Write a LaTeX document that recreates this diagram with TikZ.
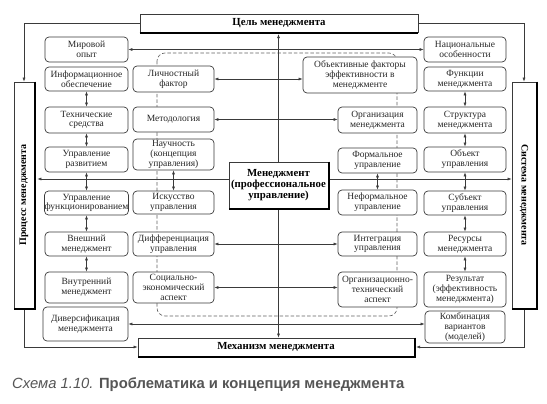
\documentclass[tikz,border=0pt]{standalone}
\usepackage{fontspec}
\setmainfont{Liberation Serif}
\newfontfamily\capfont{Liberation Sans}
\usetikzlibrary{arrows.meta,calc}
\definecolor{ln}{HTML}{3A3A3A}
\definecolor{capgray}{HTML}{555555}
\tikzset{
 box/.style={draw=ln, fill=white, rounded corners=4pt, line width=0.7pt, inner sep=0pt, align=center, font=\fontsize{9.5}{9.8}\selectfont, text=black!85},
 bigbox/.style={draw=ln, fill=white, line width=0.7pt, inner sep=0pt, align=center, font=\bfseries\fontsize{10.8}{11}\selectfont},
 arr/.style={-{Latex[length=4pt,width=3pt]}, draw=ln, line width=0.6pt},
 darr/.style={{Latex[length=4pt,width=3pt]}-{Latex[length=4pt,width=3pt]}, draw=ln, line width=0.6pt},
 shad/.style={draw=black, line width=1.8pt},
 vlabel/.style={font=\bfseries\fontsize{10}{10}\selectfont},
}
\begin{document}
\begin{tikzpicture}[x=1pt,y=-1pt]
\useasboundingbox (0,0) rectangle (547,404);
\fill[white] (0,0) rectangle (547,404);
% dashed frame
\draw[ln!80, line width=0.6pt, rounded corners=8pt, dash pattern=on 3.5pt off 2pt] (157,53) rectangle (397,316);

% big boxes
\node[bigbox, minimum width=278pt, minimum height=18pt] (cel) at (279,23) {Цель менеджмента};
\draw[shad] ([yshift=-0.9pt]cel.south west) -- ([yshift=-0.9pt]cel.south east);
\node[bigbox, minimum width=276pt, minimum height=18pt] (mech) at (276,347) {Механизм менеджмента};
\draw[shad] ([xshift=0.9pt]mech.north east) -- ([xshift=0.9pt,yshift=-0.9pt]mech.south east) -- ([yshift=-0.9pt]mech.south west);
\node[bigbox, minimum width=99pt, minimum height=46pt] (men) at (278.5,185) {Менеджмент\\(профессиональное\\управление)};
\draw[shad] ([xshift=0.9pt]men.north east) -- ([xshift=0.9pt,yshift=-0.9pt]men.south east) -- ([yshift=-0.9pt]men.south west);
\node[bigbox, minimum width=20pt, minimum height=226pt] (proc) at (24,195) {};
\draw[shad] ([xshift=0.9pt]proc.north east) -- ([xshift=0.9pt,yshift=-0.9pt]proc.south east) -- ([yshift=-0.9pt]proc.south west);
\node[vlabel, rotate=90] (proclbl) at (proc.center) {Процесс менеджмента};
\node[bigbox, minimum width=24pt, minimum height=226pt] (sys) at (524,195) {};
\draw[shad] ([xshift=0.9pt]sys.north east) -- ([xshift=0.9pt,yshift=-0.9pt]sys.south east) -- ([yshift=-0.9pt]sys.south west);
\node[vlabel, rotate=-90] (syslbl) at (sys.center) {Система менеджмента};

% left outer column
\node[box, minimum width=83pt, minimum height=25pt] (mir) at (86.5,49.5) {Мировой\\опыт};
\node[box, minimum width=83pt, minimum height=24pt] (info) at (86.5,79) {Информационное\\обеспечение};
\node[box, minimum width=83pt, minimum height=26pt] (tech) at (86.5,120) {Технические\\средства};
\node[box, minimum width=83pt, minimum height=25pt] (razv) at (86.5,159.5) {Управление\\развитием};
\node[box, minimum width=83pt, minimum height=24pt] (func) at (86.5,203) {Управление\\функционированием};
\node[box, minimum width=83pt, minimum height=24pt] (vnesh) at (86.5,244) {Внешний\\менеджмент};
\node[box, minimum width=83pt, minimum height=31pt] (vnutr) at (86.5,287.5) {Внутренний\\менеджмент};
\node[box, minimum width=85pt, minimum height=34pt] (divers) at (85.5,324) {Диверсификация\\менеджмента};

% middle-left column
\node[box, minimum width=81pt, minimum height=26pt] (lich) at (173.5,79) {Личностный\\фактор};
\node[box, minimum width=81pt, minimum height=25pt] (metod) at (173.5,119.5) {Методология};
\node[box, minimum width=81pt, minimum height=31pt] (nauch) at (173.5,154.5) {Научность\\(концепция\\управления)};
\node[box, minimum width=81pt, minimum height=23pt] (iskus) at (173.5,202.5) {Искусство\\управления};
\node[box, minimum width=81pt, minimum height=24pt] (diff) at (173.5,244) {Дифференциация\\управления};
\node[box, minimum width=81pt, minimum height=31pt] (soc) at (173.5,287.5) {Социально-\\экономический\\аспект};

% middle-right column
\node[box, minimum width=114pt, minimum height=36pt] (obj) at (360,75) {Объективные факторы\\эффективности в\\менеджменте};
\node[box, minimum width=79pt, minimum height=26pt] (org) at (377.5,120) {Организация\\менеджмента};
\node[box, minimum width=79pt, minimum height=25pt] (form) at (377.5,160.5) {Формальное\\управление};
\node[box, minimum width=79pt, minimum height=25pt] (neform) at (377.5,202.5) {Неформальное\\управление};
\node[box, minimum width=79pt, minimum height=24pt] (integ) at (377.5,244) {Интеграция\\управления};
\node[box, minimum width=79pt, minimum height=35pt] (orgtech) at (377.5,289.5) {Организационно-\\технический\\аспект};

% right outer column
\node[box, minimum width=82pt, minimum height=25pt] (nac) at (465,49.5) {Национальные\\особенности};
\node[box, minimum width=82pt, minimum height=24pt] (funk) at (465,79) {Функции\\менеджмента};
\node[box, minimum width=82pt, minimum height=26pt] (strukt) at (465,120) {Структура\\менеджмента};
\node[box, minimum width=82pt, minimum height=25pt] (objekt) at (465,159.5) {Объект\\управления};
\node[box, minimum width=82pt, minimum height=24pt] (subj) at (465,203) {Субъект\\управления};
\node[box, minimum width=82pt, minimum height=24pt] (resurs) at (465,244) {Ресурсы\\менеджмента};
\node[box, minimum width=82pt, minimum height=35pt] (rezult) at (465,289.5) {Результат\\(эффективность\\менеджмента)};
\node[box, minimum width=80pt, minimum height=32pt] (komb) at (465,327) {Комбинация\\вариантов\\(моделей)};

% outer loop arrows
\draw[arr] (cel.west) -- (cel.west -| proc.north) -- (proc.north);
\draw[arr] (cel.east) -- (cel.east -| sys.north) -- (sys.north);
\draw[arr] ([yshift=-1.8pt]proc.south) -- (proc.south |- mech.west) -- (mech.west);
\draw[arr] ([yshift=-1.8pt]sys.south) -- (sys.south |- mech.east) -- ([xshift=1.8pt]mech.east);

% center axis
\draw[arr] (men.north) -- ([yshift=-1.8pt]men.north |- cel.south);
\draw[arr] ([yshift=-1.8pt]men.south) -- (men.south |- mech.north);
\draw[arr] ([yshift=6pt]men.west) -- ([xshift=3pt,yshift=6pt]men.west -| proc.east);
\draw[arr] ([xshift=1.8pt,yshift=6pt]men.east) -- ([yshift=6pt]men.east -| sys.west);

% horizontal double arrows
\draw[darr] (mir.east) -- (mir.east -| nac.west);
\draw[darr] (lich.east) -- (lich.east -| obj.west);
\draw[darr] (metod.east) -- (metod.east -| org.west);
\draw[darr] (diff.east) -- (diff.east -| integ.west);
\draw[darr] (soc.east) -- (soc.east -| orgtech.west);
\draw[darr] (divers.east) -- (divers.east -| komb.west);

% vertical double arrows
\draw[darr] (info.south) -- (tech.north);
\draw[darr] (tech.south) -- (razv.north);
\draw[darr] (razv.south) -- (func.north);
\draw[darr] (func.south) -- (vnesh.north);
\draw[darr] (vnesh.south) -- (vnutr.north);
\draw[darr] (nauch.south) -- (iskus.north);
\draw[darr] (form.south) -- (neform.north);
\draw[darr] (funk.south) -- (strukt.north);
\draw[darr] (strukt.south) -- (objekt.north);
\draw[darr] (objekt.south) -- (subj.north);
\draw[darr] (subj.south) -- (resurs.north);
\draw[darr] (resurs.south) -- (rezult.north);

% caption
\node[anchor=base west, font=\capfont\fontsize{14.8}{15}\selectfont, text=capgray, inner sep=0pt] (cap) at (12,388) {{\itshape Схема 1.10.} {\bfseries Проблематика и концепция менеджмента}};
\end{tikzpicture}
\end{document}
